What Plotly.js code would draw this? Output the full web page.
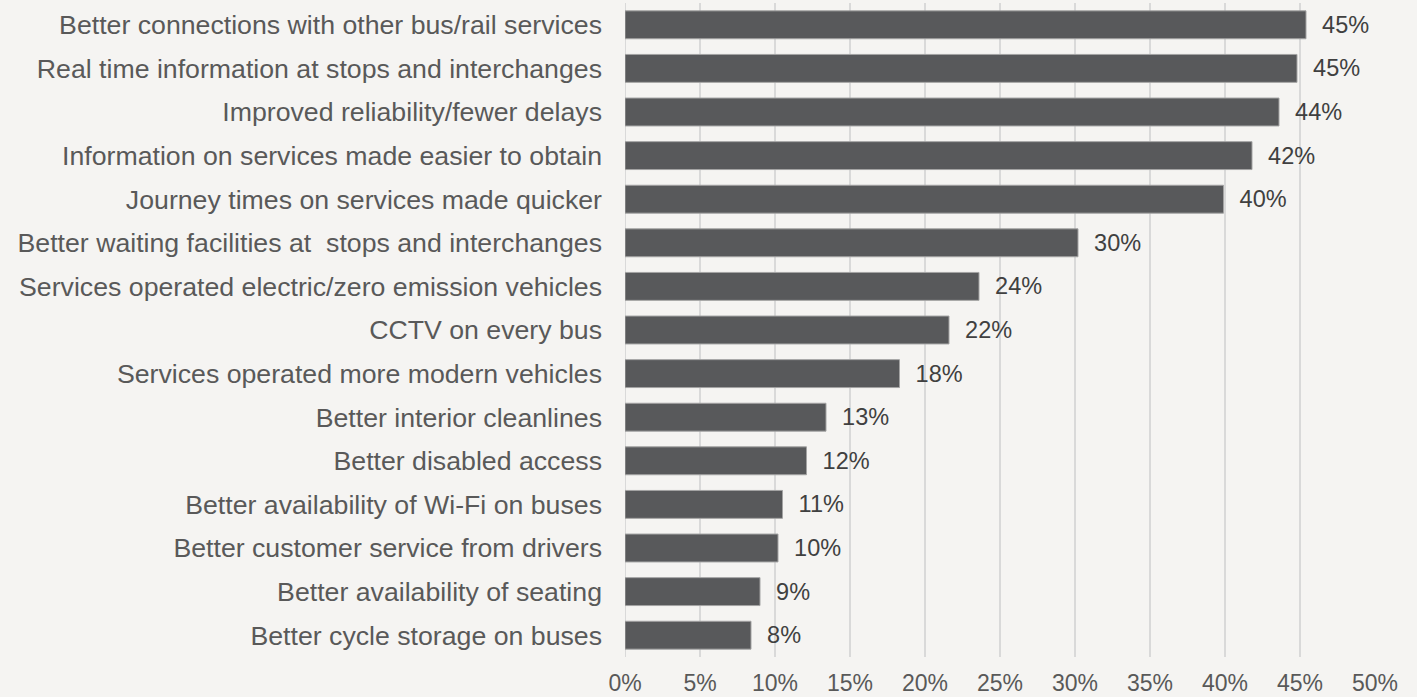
<!DOCTYPE html>
<html>
<head>
<meta charset="utf-8">
<script src="https://cdn.plot.ly/plotly-3.0.1.min.js"></script>
<style>
html,body{margin:0;padding:0;background:#f5f4f2;}
#chart{width:1417px;height:697px;}
</style>
</head>
<body>
<div id="chart"></div>
<script>
const categories = [
  "Better connections with other bus/rail services",
  "Real time information at stops and interchanges",
  "Improved reliability/fewer delays",
  "Information on services made easier to obtain",
  "Journey times on services made quicker",
  "Better waiting facilities at  stops and interchanges",
  "Services operated electric/zero emission vehicles",
  "CCTV on every bus",
  "Services operated more modern vehicles",
  "Better interior cleanlines",
  "Better disabled access",
  "Better availability of Wi-Fi on buses",
  "Better customer service from drivers",
  "Better availability of seating",
  "Better cycle storage on buses"
];
const values = [45.4, 44.8, 43.6, 41.8, 39.9, 30.2, 23.6, 21.6, 18.3, 13.4, 12.1, 10.5, 10.2, 9.0, 8.4];
const valueLabels = ["45%","45%","44%","42%","40%","30%","24%","22%","18%","13%","12%","11%","10%","9%","8%"];
const tickValues = [0,5,10,15,20,25,30,35,40,45,50];
const tickLabels = ["0%","5%","10%","15%","20%","25%","30%","35%","40%","45%","50%"];

const trace = {
  type: 'bar',
  orientation: 'h',
  y: categories,
  x: values,
  text: valueLabels.map(t => '\u00a0\u00a0' + t),
  textposition: 'outside',
  constraintext: 'none',
  cliponaxis: false,
  textfont: {family: 'Liberation Sans, Arial, sans-serif', size: 23.5, color: '#404040'},
  marker: {color: '#58595b', line: {color: '#a3a3a3', width: 1}},
  hoverinfo: 'none'
};

const layout = {
  width: 1417,
  height: 697,
  paper_bgcolor: '#f5f4f2',
  plot_bgcolor: '#f5f4f2',
  margin: {l: 625, r: 42, t: 3, b: 40},
  bargap: 0.36,
  showlegend: false,
  font: {family: 'Liberation Sans, Arial, sans-serif', color: '#595959'},
  xaxis: {
    range: [0, 50],
    tickvals: tickValues,
    ticktext: tickLabels,
    showgrid: true,
    gridcolor: '#d9d9d9',
    gridwidth: 1.5,
    zeroline: false,
    showline: false,
    ticks: '',
    tickfont: {size: 23, color: '#595959'},
    ticklabelstandoff: 10,
    fixedrange: true
  },
  yaxis: {
    autorange: 'reversed',
    showgrid: false,
    zeroline: false,
    showline: false,
    ticks: '',
    tickfont: {size: 26.7, color: '#595959'},
    ticklabelstandoff: 22,
    fixedrange: true
  },
  shapes: [{
    type: 'line', xref: 'x', yref: 'paper', x0: 0, x1: 0, y0: 0, y1: 1,
    line: {color: '#d9d9d9', width: 2}, layer: 'below'
  }]
};

Plotly.newPlot('chart', [trace], layout, {staticPlot: true, displayModeBar: false});
</script>
</body>
</html>
